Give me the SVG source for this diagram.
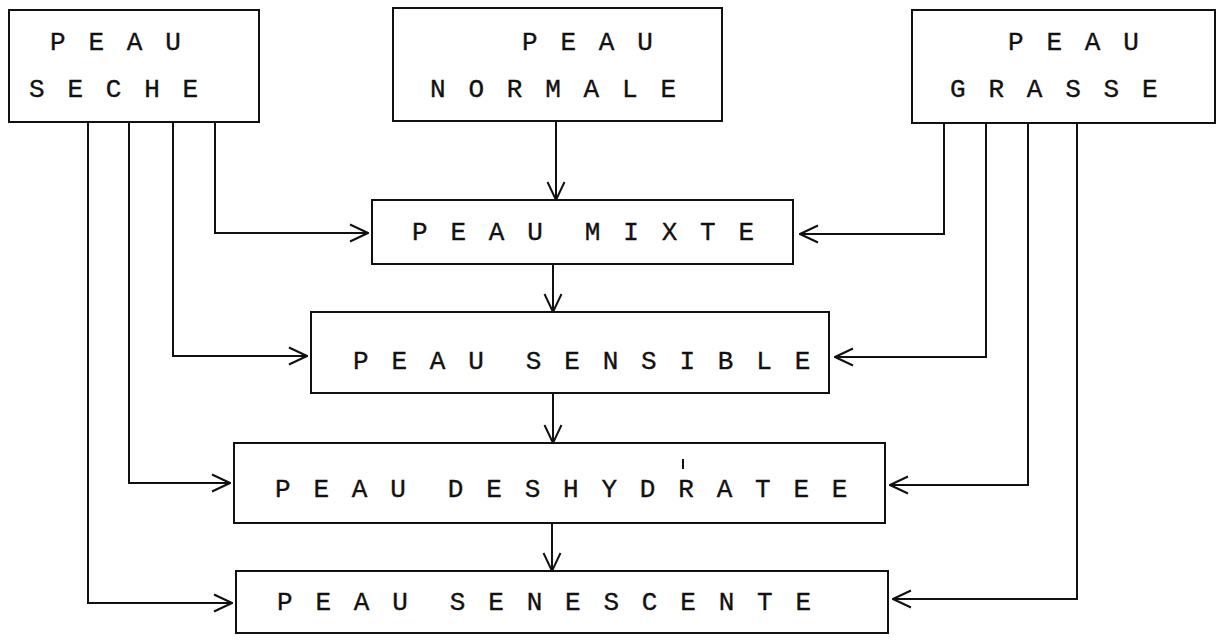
<svg xmlns="http://www.w3.org/2000/svg" width="1223" height="641" viewBox="0 0 1223 641">
<style>
.box{fill:#fff;stroke:#111;stroke-width:2}
.t{font-family:"Liberation Mono","Courier New",monospace;font-size:26px;letter-spacing:3.6px;fill:#111;stroke:#111;stroke-width:0.35;white-space:pre}
.c{fill:none;stroke:#111;stroke-width:2}
</style>
<defs>
<marker id="ah" viewBox="0 0 20 20" refX="19" refY="10" markerWidth="20" markerHeight="20" markerUnits="userSpaceOnUse" orient="auto">
<path d="M1,1.5 L19,10 L1,18.5" fill="none" stroke="#111" stroke-width="2"/>
</marker>
</defs>
<rect width="1223" height="641" fill="#fff"/>
<g id="connectors">
<path class="c" marker-end="url(#ah)" d="M556,121 L556,200"/>
<path class="c" marker-end="url(#ah)" d="M553,264 L553,312"/>
<path class="c" marker-end="url(#ah)" d="M553,393 L553,443"/>
<path class="c" marker-end="url(#ah)" d="M552,523 L552,571"/>
<path class="c" marker-end="url(#ah)" d="M215,122 L215,233 L368,233"/>
<path class="c" marker-end="url(#ah)" d="M173,122 L173,356 L307,356"/>
<path class="c" marker-end="url(#ah)" d="M129,122 L129,483 L230,483"/>
<path class="c" marker-end="url(#ah)" d="M88,122 L88,603 L232,603"/>
<path class="c" marker-end="url(#ah)" d="M944,123 L944,234 L800,234"/>
<path class="c" marker-end="url(#ah)" d="M986,123 L986,357 L835,357"/>
<path class="c" marker-end="url(#ah)" d="M1028,123 L1028,485 L890,485"/>
<path class="c" marker-end="url(#ah)" d="M1077,123 L1077,599 L893,599"/>
</g>
<g id="peau-seche">
<rect class="box" x="9" y="10" width="250" height="112"/>
<text class="t" x="50" y="50">P E A U</text>
<text class="t" x="29" y="97">S E C H E</text>
</g>
<g id="peau-normale">
<rect class="box" x="393" y="8" width="329" height="113"/>
<text class="t" x="522" y="50">P E A U</text>
<text class="t" x="430" y="97">N O R M A L E</text>
</g>
<g id="peau-grasse">
<rect class="box" x="912" y="10" width="303" height="113"/>
<text class="t" x="1008" y="50">P E A U</text>
<text class="t" x="950" y="97">G R A S S E</text>
</g>
<g id="peau-mixte">
<rect class="box" x="372" y="200" width="421" height="64"/>
<text class="t" x="412" y="240">P E A U  M I X T E</text>
</g>
<g id="peau-sensible">
<rect class="box" x="311" y="312" width="518" height="81"/>
<text class="t" x="353" y="369">P E A U  S E N S I B L E</text>
</g>
<g id="peau-deshydratee">
<rect class="box" x="234" y="443" width="651" height="80"/>
<text class="t" x="275" y="497">P E A U  D E S H Y D R A T E E</text>
<path class="c" stroke-width="1.5" d="M683,459 L683,469"/>
</g>
<g id="peau-senescente">
<rect class="box" x="236" y="571" width="652" height="62"/>
<text class="t" x="277" y="610">P E A U  S E N E S C E N T E</text>
</g>
</svg>
